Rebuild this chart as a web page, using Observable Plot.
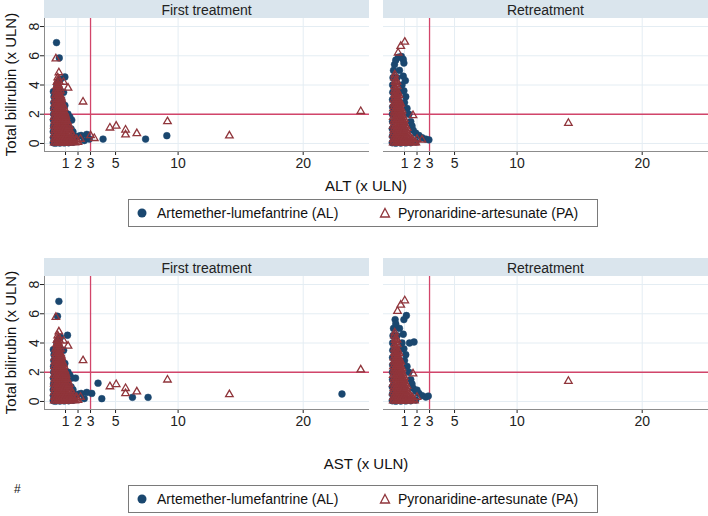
<!DOCTYPE html>
<html><head><meta charset="utf-8">
<script src="https://cdn.jsdelivr.net/npm/d3@7"></script>
<script src="https://cdn.jsdelivr.net/npm/@observablehq/plot@0.6"></script>
<style>
body{margin:0;background:#fff;font-family:"Liberation Sans",Arial,sans-serif;color:#111;}
#root{position:relative;width:708px;height:516px;overflow:hidden;}
.row{position:absolute;left:0;width:708px;}
.xtitle{position:absolute;left:0;width:732px;text-align:center;font-size:15px;line-height:18px;}
.legend{position:absolute;left:128px;width:470px;height:28px;border:1px solid #7a7a7a;box-sizing:border-box;font-size:14px;}
.legend span{position:absolute;top:5px;white-space:nowrap;}
.legend svg{position:absolute;top:7px;}
.hash{position:absolute;left:14px;font-size:12px;}
</style></head>
<body><div id="root"></div>
<script>
const treatments = ["First treatment", "Retreatment"];
const groups = ["Artemether-lumefantrine (AL)", "Pyronaridine-artesunate (PA)"];
const yTitle = "Total bilirubin (x ULN)";
const xTicks = [1, 2, 3, 5, 10, 20];
const yTicks = [0, 2, 4, 6, 8];
const xDomain = [-0.68, 25.3];
const yDomain = [-0.55, 8.55];
const xLimit = 3;   // reference line, x ULN
const yLimit = 2;   // reference line, x ULN

// --- First treatment: core cluster (as read, common to ALT and AST panels)
const alCoreFirst = [
 [0.02,0.05],[0.03,0.4],[0.02,0.8],[0.04,1.2],[0.03,1.6],[0.05,2.0],[0.04,2.4],[0.06,2.8],[0.08,3.2],[0.03,3.55],
 [0.2,0.02],[0.55,0.03],[0.9,0.04],[1.25,0.05],[1.6,0.08],
 [0.35,0.6],[0.7,0.5],[1.05,0.4],[1.4,0.35],[1.75,0.45],[2.05,0.5],[2.25,0.55],[2.5,0.2],[2.7,0.62],
 [0.4,1.4],[0.8,1.3],[1.15,1.2],[1.45,1.0],[1.6,0.8],
 [0.3,2.2],[0.7,2.1],[1.2,2.0],[1.5,1.6],[1.35,1.8],
 [0.35,3.0],[0.7,2.8],[0.95,2.6],[0.2,3.5],[0.5,3.7],[0.85,3.5],[0.4,4.2],[0.6,4.4],[0.3,4.0]
];
const paCoreFirst = [
 [0.1,0.05],[0.3,0.04],[0.5,0.06],[0.7,0.05],[0.9,0.04],[1.1,0.06],[1.3,0.05],[1.5,0.07],[1.75,0.05],[2.0,0.08],
 [0.2,0.17],[0.4,0.16],[0.6,0.18],[0.8,0.17],[1.0,0.16],[1.2,0.18],[1.4,0.17],[1.65,0.16],[1.9,0.18],
 [0.12,0.3],[0.32,0.32],[0.52,0.28],[0.72,0.31],[0.92,0.3],[1.12,0.29],[1.35,0.32],[1.6,0.3],[1.9,0.28],[2.2,0.3],
 [0.2,0.45],[0.4,0.46],[0.6,0.44],[0.8,0.45],[1.0,0.46],[1.22,0.44],[1.45,0.45],
 [0.1,0.6],[0.3,0.62],[0.5,0.58],[0.7,0.61],[0.9,0.6],[1.1,0.59],[1.3,0.62],[1.55,0.6],
 [0.2,0.75],[0.4,0.76],[0.6,0.74],[0.8,0.75],[1.0,0.76],[1.2,0.74],[1.42,0.75],
 [0.14,0.9],[0.34,0.92],[0.54,0.88],[0.74,0.9],[0.94,0.91],[1.15,0.89],[1.35,0.9],
 [0.2,1.05],[0.4,1.06],[0.6,1.04],[0.8,1.05],[1.0,1.06],[1.22,1.04],
 [0.1,1.2],[0.3,1.21],[0.5,1.19],[0.7,1.2],[0.9,1.22],[1.1,1.2],[1.3,1.18],
 [0.2,1.35],[0.4,1.36],[0.6,1.34],[0.8,1.35],[1.0,1.36],[1.2,1.34],
 [0.15,1.5],[0.35,1.52],[0.55,1.49],[0.75,1.5],[0.95,1.51],[1.15,1.5],
 [0.2,1.65],[0.4,1.66],[0.6,1.64],[0.8,1.65],[1.0,1.66],
 [0.1,1.8],[0.3,1.81],[0.5,1.79],[0.7,1.8],[0.9,1.82],[1.05,1.8],
 [0.2,1.95],[0.4,1.96],[0.6,1.94],[0.8,1.95],[1.0,1.96],
 [0.15,2.1],[0.35,2.11],[0.55,2.09],[0.75,2.1],[0.95,2.1],
 [0.22,2.25],[0.45,2.26],[0.65,2.24],[0.85,2.25],
 [0.12,2.4],[0.32,2.41],[0.52,2.39],[0.72,2.4],[0.88,2.42],
 [0.22,2.55],[0.45,2.56],[0.65,2.54],[0.82,2.55],
 [0.15,2.7],[0.35,2.71],[0.55,2.69],[0.75,2.7],
 [0.25,2.85],[0.45,2.86],[0.65,2.84],
 [0.15,3.0],[0.35,3.01],[0.55,2.99],[0.7,3.0],
 [0.28,3.15],[0.48,3.16],[0.66,3.14],
 [0.2,3.3],[0.4,3.31],[0.6,3.29],
 [0.3,3.45],[0.5,3.46],
 [0.22,3.6],[0.42,3.61],[0.6,3.6],
 [0.32,3.75],[0.52,3.76],
 [0.28,3.9],[0.48,3.91],
 [0.4,4.05],
 [0.32,4.2],[0.5,4.21],
 [0.42,4.35],
 [0.38,4.5]
];
// --- First treatment outliers
const alFirstALT = [[0.28,6.9],[0.5,5.85],[0.95,4.55],[2.9,0.3],[4.0,0.3],[7.4,0.3],[9.1,0.53]];
const paFirstALT = [[0.23,5.8],[0.47,4.85],[0.84,4.2],[1.2,3.8],[2.4,2.85],[3.0,0.55],[3.3,0.35],[4.55,1.07],[5.05,1.2],[5.8,0.93],[5.8,0.6],[6.7,0.68],[9.15,1.5],[14.1,0.53],[24.6,2.2]];
const alFirstAST = [[0.47,6.85],[0.36,5.83],[1.16,4.53],[1.8,1.6],[3.6,1.25],[3.1,0.55],[3.9,0.19],[6.35,0.28],[7.6,0.28],[23.1,0.51]];
const paFirstAST = [[0.23,5.76],[0.47,4.77],[0.84,4.15],[1.2,3.8],[2.4,2.8],[4.55,1.02],[5.05,1.17],[5.8,0.9],[5.8,0.55],[6.7,0.67],[9.15,1.48],[14.1,0.48],[24.6,2.17]];

// --- Retreatment: core cluster
const alCoreRe = [
 [0.02,0.05],[0.03,0.5],[0.02,1.0],[0.04,1.5],[0.03,2.0],[0.05,2.5],[0.04,3.0],[0.06,3.5],[0.05,4.0],[0.08,4.5],[0.12,5.0],
 [0.9,4.6],[0.8,4.0],[1.1,3.2],[1.0,2.8],[1.2,2.4],[1.35,2.0],[1.5,1.5],[1.6,1.2],[1.7,0.9],[1.9,0.7],[2.15,0.55],[2.4,0.4],[2.7,0.3],
 [0.3,0.02],[0.7,0.03],[1.1,0.04],[1.5,0.05],[1.9,0.1],
 [0.4,1.0],[0.7,1.5],[0.5,2.5],[0.6,3.5],[0.4,4.5],[0.6,5.0],[0.3,3.0]
];
const paCoreRe = [
 [0.1,0.05],[0.3,0.04],[0.5,0.06],[0.7,0.05],[0.9,0.04],[1.1,0.06],[1.3,0.05],[1.55,0.07],[1.8,0.05],
 [0.2,0.17],[0.4,0.16],[0.6,0.18],[0.8,0.17],[1.0,0.16],[1.2,0.18],[1.45,0.17],[1.7,0.16],
 [0.12,0.3],[0.32,0.32],[0.52,0.28],[0.72,0.31],[0.92,0.3],[1.12,0.29],[1.35,0.32],[1.6,0.3],[2.0,0.3],
 [0.2,0.45],[0.4,0.46],[0.6,0.44],[0.8,0.45],[1.0,0.46],[1.2,0.44],[1.4,0.45],
 [0.1,0.6],[0.3,0.62],[0.5,0.58],[0.7,0.61],[0.9,0.6],[1.1,0.59],[1.3,0.62],
 [0.2,0.75],[0.4,0.76],[0.6,0.74],[0.8,0.75],[1.0,0.76],[1.22,0.74],
 [0.14,0.9],[0.34,0.92],[0.54,0.88],[0.74,0.9],[0.94,0.91],[1.15,0.89],
 [0.2,1.05],[0.4,1.06],[0.6,1.04],[0.8,1.05],[1.0,1.06],[1.2,1.04],
 [0.1,1.2],[0.3,1.21],[0.5,1.19],[0.7,1.2],[0.9,1.22],[1.1,1.2],
 [0.2,1.35],[0.4,1.36],[0.6,1.34],[0.8,1.35],[1.0,1.36],
 [0.15,1.5],[0.35,1.52],[0.55,1.49],[0.75,1.5],[0.95,1.51],
 [0.2,1.65],[0.4,1.66],[0.6,1.64],[0.8,1.65],[0.98,1.66],
 [0.1,1.8],[0.3,1.81],[0.5,1.79],[0.7,1.8],[0.9,1.82],
 [0.2,1.95],[0.4,1.96],[0.6,1.94],[0.8,1.95],
 [0.15,2.1],[0.35,2.11],[0.55,2.09],[0.75,2.1],
 [0.22,2.25],[0.45,2.26],[0.65,2.24],[0.8,2.25],
 [0.12,2.4],[0.32,2.41],[0.52,2.39],[0.72,2.4],
 [0.22,2.55],[0.42,2.56],[0.62,2.54],
 [0.15,2.7],[0.35,2.71],[0.55,2.69],[0.7,2.7],
 [0.25,2.85],[0.45,2.86],[0.62,2.84],
 [0.15,3.0],[0.35,3.01],[0.55,2.99],
 [0.25,3.15],[0.45,3.16],
 [0.2,3.3],[0.4,3.31],[0.55,3.3],
 [0.28,3.45],[0.48,3.46],
 [0.2,3.6],[0.4,3.61],
 [0.3,3.75],
 [0.22,3.9],[0.42,3.91],
 [0.32,4.05],
 [0.25,4.2],[0.4,4.21],
 [0.3,4.35],
 [0.2,4.5],[0.22,4.7]
];
// --- Retreatment extra points
const alReALT = [[0.2,5.4],[0.3,5.7],[0.5,5.9],[0.75,5.95],[0.9,5.75],[0.95,5.5],[1.07,4.3],[0.95,3.6],[2.95,0.25]];
const paReALT = [[0.49,6.2],[0.7,6.65],[1.02,6.94],[1.68,1.92],[14.1,1.39],[2.4,0.25],[1.9,0.05]];
const alReAST = [[0.25,5.6],[0.3,5.3],[0.95,5.6],[1.15,5.88],[1.76,4.07],[1.4,4.0],[0.95,3.6],[2.0,0.78],[2.9,0.37]];
const paReAST = [[0.44,6.18],[0.7,6.6],[1.02,6.9],[1.68,1.9],[14.1,1.39]];

const BLUE = "#1a476f", MAROON = "#90353b", RED = "#d2456a", GRID = "#e4edf3", STRIP = "#dae5ed";
const FONT = "Liberation Sans, Arial, sans-serif";

function rows(pairs, treat, group) {
  return pairs.map(([x, y]) => ({x, y, treat, group}));
}

function panelRow(alFirst, paFirst, alRe, paRe) {
  const al = [...rows(alCoreFirst.concat(alFirst), treatments[0], groups[0]), ...rows(alCoreRe.concat(alRe), treatments[1], groups[0])];
  const pa = [...rows(paCoreFirst.concat(paFirst), treatments[0], groups[1]), ...rows(paCoreRe.concat(paRe), treatments[1], groups[1])];
  const mt = 18, mb = 27, H = 178;
  const plot = Plot.plot({
    width: 708, height: H,
    marginLeft: 43, marginRight: 0, marginTop: mt, marginBottom: mb,
    style: {fontFamily: FONT, fontSize: "14px", color: "#222", background: "#fff", overflow: "visible"},
    fx: {domain: treatments, paddingInner: 0.042, paddingOuter: 0, axis: null, label: null},
    x: {domain: xDomain, ticks: xTicks, tickSize: 4, tickPadding: 3, label: null},
    y: {domain: yDomain, ticks: yTicks, tickSize: 4, tickPadding: 2, tickRotate: -90, label: null},
    marks: [
      Plot.gridX(xTicks, {stroke: GRID, strokeOpacity: 1}),
      Plot.gridY(yTicks, {stroke: GRID, strokeOpacity: 1}),
      Plot.ruleY([yDomain[0]], {stroke: "#8c8c8c"}),
      Plot.ruleX(treatments.slice(0, 1), {fx: d => d, x: xDomain[0], stroke: "#8c8c8c"}),
      Plot.ruleX([xLimit], {stroke: RED, strokeWidth: 1.3}),
      Plot.ruleY([yLimit], {stroke: RED, strokeWidth: 1.3}),
      Plot.dot(al, {x: "x", y: "y", fx: "treat", r: 3.4, symbol: "circle", fill: BLUE, stroke: BLUE, strokeWidth: 0.5}),
      Plot.dot(pa, {x: "x", y: "y", fx: "treat", r: 2.8, symbol: "triangle", fill: "none", stroke: MAROON, strokeWidth: 1.3})
    ]
  });
  const fx = plot.scale("fx");
  const ns = "http://www.w3.org/2000/svg";
  const g = document.createElementNS(ns, "g");
  for (const t of treatments) {
    const x0 = fx.apply(t), w = fx.bandwidth;
    const r = document.createElementNS(ns, "rect");
    r.setAttribute("x", x0); r.setAttribute("y", 0); r.setAttribute("width", w); r.setAttribute("height", mt);
    r.setAttribute("fill", STRIP);
    const tx = document.createElementNS(ns, "text");
    tx.setAttribute("x", x0 + w / 2); tx.setAttribute("y", mt / 2 + 0.5);
    tx.setAttribute("text-anchor", "middle"); tx.setAttribute("dominant-baseline", "central");
    tx.setAttribute("font-size", "14px"); tx.setAttribute("fill", "#222");
    tx.textContent = t;
    g.appendChild(r); g.appendChild(tx);
  }
  const yt = document.createElementNS(ns, "text");
  yt.setAttribute("transform", `translate(10,${(mt + H - mb) / 2}) rotate(-90)`);
  yt.setAttribute("text-anchor", "middle"); yt.setAttribute("dominant-baseline", "central");
  yt.setAttribute("font-size", "15px"); yt.setAttribute("fill", "#111");
  yt.textContent = yTitle;
  g.appendChild(yt);
  plot.appendChild(g);
  return plot;
}

function legend(top) {
  const d = document.createElement("div");
  d.className = "legend"; d.style.top = top + "px";
  d.innerHTML = `<svg width="12" height="12" style="left:7px"><circle cx="6" cy="6" r="4.5" fill="${BLUE}"/></svg>
  <span style="left:28px">${groups[0]}</span>
  <svg width="12" height="12" style="left:250px"><path d="M6,1.5 L10.5,10 L1.5,10 Z" fill="none" stroke="${MAROON}" stroke-width="1.3"/></svg>
  <span style="left:269px">${groups[1]}</span>`;
  return d;
}

const root = document.getElementById("root");
const r1 = document.createElement("div"); r1.className = "row"; r1.style.top = "0px";
r1.appendChild(panelRow(alFirstALT, paFirstALT, alReALT, paReALT));
root.appendChild(r1);
const t1 = document.createElement("div"); t1.className = "xtitle"; t1.style.top = "177px"; t1.textContent = "ALT (x ULN)";
root.appendChild(t1);
root.appendChild(legend(199));

const r2 = document.createElement("div"); r2.className = "row"; r2.style.top = "258px";
r2.appendChild(panelRow(alFirstAST, paFirstAST, alReAST, paReAST));
root.appendChild(r2);
const t2 = document.createElement("div"); t2.className = "xtitle"; t2.style.top = "455px"; t2.textContent = "AST (x ULN)";
root.appendChild(t2);
const h = document.createElement("div"); h.className = "hash"; h.style.top = "482px"; h.textContent = "#";
root.appendChild(h);
root.appendChild(legend(485));
</script></body></html>
